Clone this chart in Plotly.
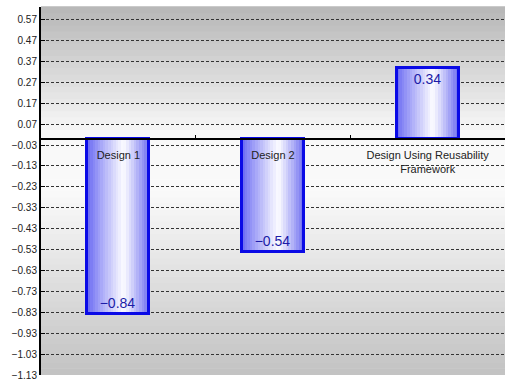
import plotly.graph_objects as go

categories = ["Design 1", "Design 2", "Design Using Reusability<br>Framework"]
values = [-0.84, -0.54, 0.34]
tick_vals = [0.57, 0.47, 0.37, 0.27, 0.17, 0.07, -0.03, -0.13, -0.23, -0.33,
             -0.43, -0.53, -0.63, -0.73, -0.83, -0.93, -1.03, -1.13]

y_min, y_max = -1.13, 0.63
bar_w = 0.4
n_slices = 24


def lerp(c1, c2, t):
    return tuple(int(round(a + (b - a) * t)) for a, b in zip(c1, c2))


def fmt(v):
    return "%.2f" % v if v >= 0 else "\u2212%.2f" % -v


def bar_color(t):
    # blue -> white (peak at ~0.58) -> blue
    blue_l = (105, 105, 242)
    blue_r = (110, 110, 240)
    white = (252, 252, 255)
    peak = 0.58
    if t < peak:
        c = lerp(blue_l, white, (t / peak) ** 0.9)
    else:
        c = lerp(white, blue_r, ((t - peak) / (1 - peak)) ** 1.1)
    return "rgb(%d,%d,%d)" % c


fig = go.Figure()

# gradient fill of bars, built as thin overlaid slices
for i in range(n_slices):
    t = (i + 0.5) / n_slices
    fig.add_trace(go.Bar(
        x=categories, y=values,
        width=bar_w / n_slices + 0.002,
        offset=-bar_w / 2 + i * bar_w / n_slices,
        marker=dict(color=bar_color(t), line=dict(width=0)),
        hoverinfo="skip", showlegend=False,
    ))

# outline + value labels
fig.add_trace(go.Bar(
    x=categories, y=values,
    width=bar_w, offset=-bar_w / 2,
    marker=dict(color="rgba(0,0,0,0)", line=dict(color="#0a0ae6", width=3)),
    text=[fmt(v) for v in values],
    texttemplate="%{text}",
    textposition="inside", insidetextanchor="end",
    textfont=dict(family="Liberation Sans, Arial", size=14, color="#1c1ca8"),
    showlegend=False,
))

# gray gradient plot background
stops = [(0.0, (194, 194, 194)), (0.3, (228, 228, 228)), (0.5, (250, 250, 250)),
         (0.66, (248, 248, 248)), (1.0, (182, 182, 182))]
n_bands = 60
shapes = []
for k in range(n_bands):
    y0 = k / n_bands
    y1 = (k + 1) / n_bands
    ym = (y0 + y1) / 2
    for (s0, c0), (s1, c1) in zip(stops[:-1], stops[1:]):
        if s0 <= ym <= s1:
            c = lerp(c0, c1, (ym - s0) / (s1 - s0))
            break
    shapes.append(dict(type="rect", xref="paper", yref="paper",
                       x0=0, x1=1, y0=y0, y1=y1 + 0.002, layer="below",
                       line=dict(width=0), fillcolor="rgb(%d,%d,%d)" % c))

zero_pos = (0 - y_min) / (y_max - y_min)

fig.update_layout(
    width=507, height=382,
    margin=dict(l=41, r=2, t=7, b=7),
    paper_bgcolor="white", plot_bgcolor="rgba(0,0,0,0)",
    barmode="overlay", bargap=0,
    shapes=shapes,
    font=dict(family="Liberation Sans, Arial", size=10, color="#222"),
    xaxis=dict(
        anchor="free", position=zero_pos,
        showline=True, linecolor="black", linewidth=2,
        tickson="boundaries", ticks="inside", ticklen=3, tickcolor="black",
        showgrid=False, ticklabelstandoff=6,
        tickfont=dict(size=11, color="#222"),
        range=[-0.5, 2.5],
    ),
    yaxis=dict(
        range=[y_min, y_max],
        tickmode="array", tickvals=tick_vals,
        ticktext=[fmt(v) for v in tick_vals],
        showline=True, linecolor="black", linewidth=2,
        ticks="inside", ticklen=4, tickcolor="black",
        showgrid=True, gridcolor="#333", gridwidth=1, griddash="3px,2px",
        zeroline=False,
        tickfont=dict(size=10, color="#222"),
    ),
)

fig.write_html("out.html", config={"displayModeBar": False},
               post_script="document.body.style.margin='0px';")
